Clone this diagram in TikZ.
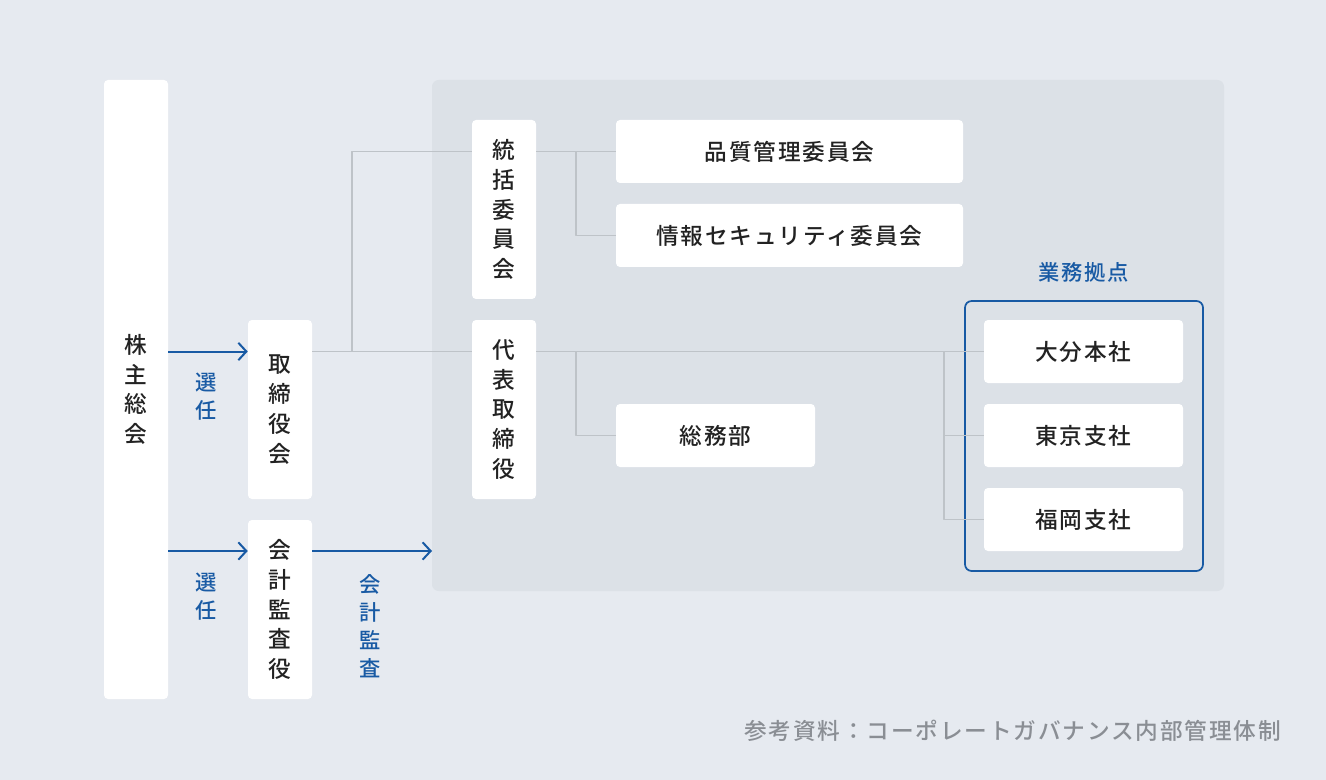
\documentclass[tikz,border=0pt]{standalone}
\usepackage{fontspec}
\setmainfont{Noto Sans CJK JP}[UprightFont=* Medium]
\newfontfamily\widejp{Noto Sans CJK JP}[UprightFont=* Medium, LetterSpace=8]
\usetikzlibrary{arrows.meta}
\definecolor{pagebg}{RGB}{230, 234, 240}
\definecolor{panelbg}{RGB}{220, 225, 231}
\definecolor{linkgray}{RGB}{190, 195, 200}
\definecolor{orgblue}{RGB}{24, 90, 164}
\definecolor{textdark}{RGB}{34, 34, 34}
\definecolor{notegray}{RGB}{138, 142, 148}

\begin{document}
\begin{tikzpicture}[x=0.75pt, y=-0.75pt, line join=round,
    box/.style={fill=white, rounded corners=3pt, text=textdark, inner sep=0pt, align=center,
        font=\fontsize{17}{22.3}\selectfont},
    tallbox/.style={box, minimum width=48pt, minimum height=134.25pt},
    widebox/.style={box, minimum height=47.25pt, font=\widejp\fontsize{17}{22.3}\selectfont},
    link/.style={linkgray, line width=1.2pt},
    arr/.style={orgblue, line width=1.5pt, -{Straight Barb[length=6pt, width=13pt, line width=1.5pt]}},
    bluetext/.style={text=orgblue, align=center, inner sep=0pt, font=\fontsize{16}{21}\selectfont}]
    % Dimensions
    \def\W{1326}  % picture width
    \def\H{780}   % picture height

    % 1. Background and panel
    \useasboundingbox (0,0) rectangle (\W,\H);
    \fill[pagebg] (0,0) rectangle (\W,\H);
    \fill[panelbg, rounded corners=5pt] (432,80) rectangle (1224,591);

    % 2. Boxes
    \node[box, minimum width=48pt, minimum height=464.25pt] (kabu) at (136,389.5) {株\\主\\総\\会};
    \node[tallbox] (tori)    at (280,409.5) {取\\締\\役\\会};
    \node[tallbox] (kansa)   at (280,609.5) {会\\計\\監\\査\\役};
    \node[tallbox] (tokatsu) at (504,209.5) {統\\括\\委\\員\\会};
    \node[tallbox] (daihyo)  at (504,409.5) {代\\表\\取\\締\\役};

    \node[widebox, minimum width=260.25pt] (hinshitsu) at (789.5,151.5) {品質管理委員会};
    \node[widebox, minimum width=260.25pt] (joho)      at (789.5,235.5) {情報セキュリティ委員会};
    \node[widebox, minimum width=149.25pt] (somu)      at (715.5,435.5) {総務部};

    \node[widebox, minimum width=149.25pt] (oita)    at (1083.5,351.5) {大分本社};
    \node[widebox, minimum width=149.25pt] (tokyo)   at (1083.5,435.5) {東京支社};
    \node[widebox, minimum width=149.25pt] (fukuoka) at (1083.5,519.5) {福岡支社};

    % Business sites frame
    \draw[orgblue, line width=1.3pt, rounded corners=5pt] (965,301) rectangle (1203,571);
    \node[bluetext, font=\widejp\fontsize{16}{21}\selectfont] (sites) at (1083.5,272) {業務拠点};

    % 3. Gray links
    \draw[link] (tori.east |- oita) -- (daihyo.west |- oita);
    \draw[link] (tori.east |- oita) ++(40,0) |- (tokatsu.west |- hinshitsu);
    \draw[link] (tokatsu.east |- hinshitsu) -- (hinshitsu.west);
    \draw[link] (tokatsu.east |- hinshitsu) ++(40,0) |- (joho.west);
    \draw[link] (daihyo.east |- oita) -- (oita.west);
    \draw[link] (daihyo.east |- oita) ++(40,0) |- (somu.west);
    \draw[link] (oita.west) ++(-40,0) |- (tokyo.west);
    \draw[link] (oita.west) ++(-40,0) |- (fukuoka.west);

    % 4. Blue arrows
    \coordinate (audit) at (432,551);
    \draw[arr] (kabu.east |- oita) -- (tori.west |- oita);
    \draw[arr] (kabu.east |- audit) -- (kansa.west |- audit);
    \draw[arr] (kansa.east |- audit) -- (audit);

    \node[bluetext] (sennin1) at (206,397) {選\\任};
    \node[bluetext] (sennin2) at (206,597) {選\\任};
    \node[bluetext] (kaikei)  at (370,626) {会\\計\\監\\査};

    % 5. Source note
    \node[anchor=east, text=notegray, inner sep=0pt, font=\widejp\fontsize{17}{20}\selectfont] (note) at (1281,731)
        {参考資料：コーポレートガバナンス内部管理体制};
\end{tikzpicture}
\end{document}
